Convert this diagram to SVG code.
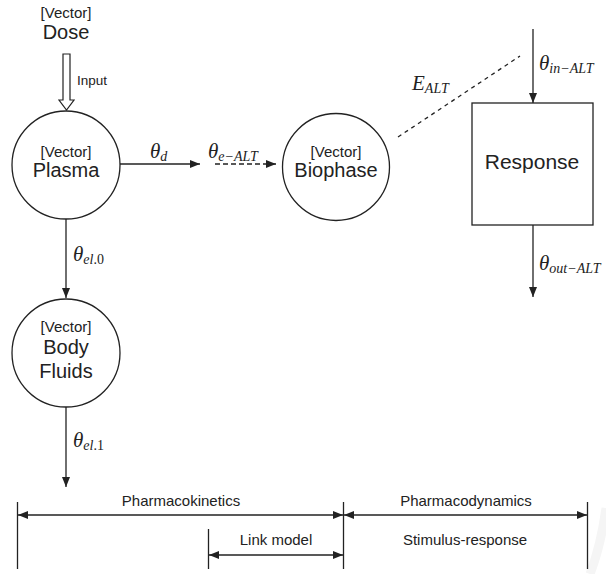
<svg xmlns="http://www.w3.org/2000/svg" width="606" height="574" viewBox="0 0 606 574">
<style>
.s{font-family:"Liberation Sans",Arial,sans-serif;fill:#222;text-anchor:middle}
.v{font-size:15px}
.n{font-size:20px}
.l{font-size:15px}
.i{font-size:13.5px}
.m{font-family:"Liberation Serif","Times New Roman",serif;font-style:italic;font-size:21px;fill:#222}
.sub{font-size:14px}
.up{font-style:normal}
.shape{fill:#fff;stroke:#222;stroke-width:1.3}
.ln{stroke:#222;stroke-width:1.3;fill:none}
</style>
<defs>
<marker id="ah" viewBox="0 0 10 8" refX="10" refY="4" markerWidth="10" markerHeight="8" markerUnits="userSpaceOnUse" orient="auto-start-reverse">
<path d="M0,0 L10,4 L0,8 Z" fill="#222"/>
</marker>
</defs>
<rect width="606" height="574" fill="#fff"/>
<path d="M606,508 Q601,545 590,574" stroke="#f5f5f5" stroke-width="9" fill="none"/>

<g id="dose">
<text class="s v" x="66" y="18">[Vector]</text>
<text class="s n" x="66" y="39">Dose</text>
</g>

<g id="plasma">
<circle class="shape" cx="66" cy="165" r="54"/>
<text class="s v" x="66" y="157">[Vector]</text>
<text class="s n" x="66" y="177">Plasma</text>
</g>

<g id="biophase">
<circle class="shape" cx="336" cy="167" r="53.5"/>
<text class="s v" x="336" y="157">[Vector]</text>
<text class="s n" x="336" y="177">Biophase</text>
</g>

<g id="bodyfluids">
<circle class="shape" cx="66" cy="353" r="54"/>
<text class="s v" x="66" y="332">[Vector]</text>
<text class="s n" x="66" y="354">Body</text>
<text class="s n" x="66" y="378">Fluids</text>
</g>

<g id="response">
<rect class="shape" x="472" y="103" width="121" height="122"/>
<text class="s" style="font-size:21px" x="532" y="169">Response</text>
</g>

<g id="connectors">
<path d="M63,54 L70,54 L70,100 L74,100 L66.5,110 L59,100 L63,100 Z" fill="#fff" stroke="#222" stroke-width="1.2"/>
<text class="s i" x="77" y="85" style="text-anchor:start">Input</text>

<line class="ln" x1="120" y1="164" x2="200" y2="164" marker-end="url(#ah)"/>
<line class="ln" x1="215" y1="164" x2="276" y2="164" stroke-dasharray="5,3" marker-end="url(#ah)"/>
<line class="ln" x1="398" y1="137" x2="520" y2="56" stroke-dasharray="4,4"/>

<line class="ln" x1="66" y1="219" x2="66" y2="298" marker-end="url(#ah)"/>
<line class="ln" x1="66" y1="407" x2="66" y2="487" marker-end="url(#ah)"/>

<line class="ln" x1="533" y1="29" x2="533" y2="103" marker-end="url(#ah)"/>
<line class="ln" x1="533" y1="225" x2="533" y2="297" marker-end="url(#ah)"/>

<text class="m" x="150" y="158">θ<tspan class="sub" dy="3">d</tspan></text>
<text class="m" x="208" y="158">θ<tspan class="sub" dy="3">e−ALT</tspan></text>
<text class="m" x="412" y="90">E<tspan class="sub" dy="3">ALT</tspan></text>
<text class="m" x="539" y="70">θ<tspan class="sub" dy="3">in−ALT</tspan></text>
<text class="m" x="539" y="270">θ<tspan class="sub" dy="3">out−ALT</tspan></text>
<text class="m" x="73" y="261">θ<tspan class="sub" dy="3">el</tspan><tspan class="sub up">.0</tspan></text>
<text class="m" x="73" y="447">θ<tspan class="sub" dy="3">el</tspan><tspan class="sub up">.1</tspan></text>

<line class="ln" x1="17.5" y1="502" x2="17.5" y2="569"/>
<line class="ln" x1="343.5" y1="502" x2="343.5" y2="569"/>
<line class="ln" x1="587.5" y1="502" x2="587.5" y2="569"/>
<line class="ln" x1="208.5" y1="529" x2="208.5" y2="569"/>
<line class="ln" x1="18" y1="515" x2="343" y2="515" marker-start="url(#ah)" marker-end="url(#ah)"/>
<line class="ln" x1="344" y1="515" x2="587" y2="515" marker-start="url(#ah)" marker-end="url(#ah)"/>
<line class="ln" x1="209" y1="555" x2="343" y2="555" marker-start="url(#ah)" marker-end="url(#ah)"/>
<text class="s l" x="181" y="506">Pharmacokinetics</text>
<text class="s l" x="466" y="506">Pharmacodynamics</text>
<text class="s l" x="276" y="545">Link model</text>
<text class="s l" x="465" y="545">Stimulus-response</text>
</g>
</svg>
